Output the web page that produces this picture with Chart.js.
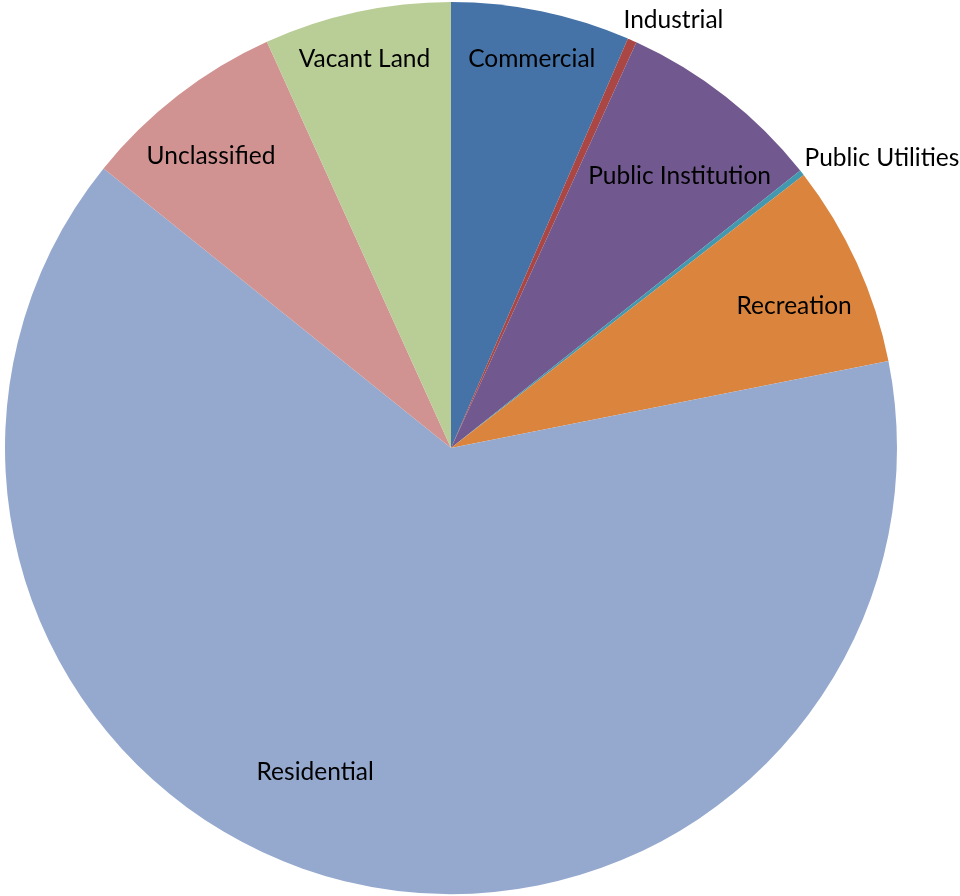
<!DOCTYPE html>
<html>
<head>
<meta charset="utf-8">
<title>Land use</title>
<script src="https://cdn.jsdelivr.net/npm/chart.js@4/dist/chart.umd.min.js"></script>
<style>
    html, body { margin: 0; padding: 0; background: #ffffff; }
    #wrap { width: 960px; height: 896px; }
</style>
</head>
<body>
<div id="wrap"><canvas id="landChart" width="960" height="896"></canvas></div>
<script>
// Land use shares (percent of total area)
const categories = ['Commercial', 'Industrial', 'Public Institution', 'Public Utilities',
    'Recreation', 'Residential', 'Unclassified', 'Vacant Land'];
const shares = [6.49, 0.33, 7.49, 0.2, 7.36, 63.88, 7.44, 6.77];

const sliceColors = ['#4572A7', '#AA4643', '#71588F', '#4198AF',
    '#DB843D', '#95A9CF', '#D19392', '#B9CD96'];

// label placement: distance as fraction of radius, and small angle shift (degrees)
const labelDist = [0.894, 1.085, 0.80, 1.167, 0.834, 0.783, 0.85, 0.897];
const labelShift = [0, 3.4, 1.8, 4, 1.8, 9.1, -1.5, -0.3];

// Draws category names on / next to each slice
const sliceLabels = {
    id: 'sliceLabels',
    afterDatasetsDraw(chart) {
        const ctx = chart.ctx;
        const arcs = chart.getDatasetMeta(0).data;
        ctx.save();
        ctx.font = '24.5px Lato, "Open Sans", sans-serif';
        ctx.fillStyle = '#000000';
        ctx.textAlign = 'center';
        ctx.textBaseline = 'middle';
        arcs.forEach(function(arc, i) {
            const p = arc.getProps(['x', 'y', 'startAngle', 'endAngle', 'outerRadius'], true);
            const mid = (p.startAngle + p.endAngle) / 2 + labelShift[i] * Math.PI / 180;
            const d = p.outerRadius * labelDist[i];
            ctx.fillText(chart.data.labels[i], p.x + d * Math.cos(mid), p.y + d * Math.sin(mid) + 2);
        });
        ctx.restore();
    }
};

function loadLandChart() {
    const ctx = document.getElementById('landChart').getContext('2d');
    new Chart(ctx, {
        type: 'pie',
        data: {
            labels: categories,
            datasets: [{
                data: shares,
                backgroundColor: sliceColors,
                borderWidth: 0
            }]
        },
        options: {
            responsive: false,
            animation: false,
            layout: {
                padding: { left: 5, right: 63, top: 2, bottom: 2 }
            },
            plugins: {
                legend: { display: false },
                tooltip: { enabled: false }
            }
        },
        plugins: [sliceLabels]
    });
}

window.onload = function() {
    loadLandChart();
};
</script>
</body>
</html>
